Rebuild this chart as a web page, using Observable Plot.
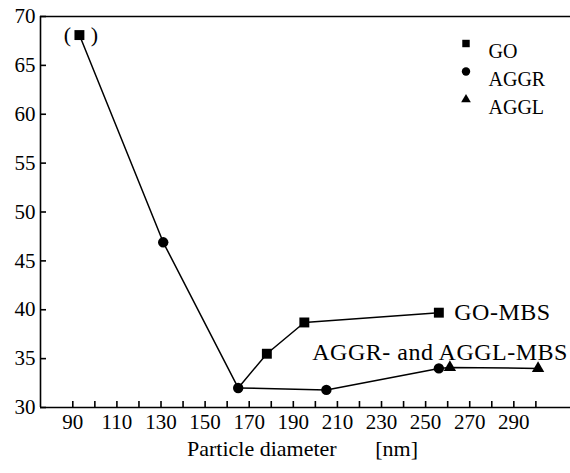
<!DOCTYPE html>
<html>
<head>
<meta charset="utf-8">
<script src="https://cdn.jsdelivr.net/npm/d3@7"></script>
<script src="https://cdn.jsdelivr.net/npm/@observablehq/plot@0.6"></script>
<style>
  html, body { margin: 0; padding: 0; background: white; }
  svg text { font-family: "Liberation Serif", "DejaVu Serif", serif; }
  .anno text { letter-spacing: 0.5px; }
</style>
</head>
<body>
<div id="chart"></div>
<script>
// Data
const goX = [93, 178, 195, 256];
const goY = [68.1, 35.5, 38.7, 39.7];
const aggrX = [131, 165, 205, 256];
const aggrY = [46.9, 32.0, 31.8, 34.0];
const agglX = [261, 301];
const agglY = [34.1, 34.0];
// connecting lines
const upperLineX = [93, 131, 165, 178, 195, 256];
const upperLineY = [68.1, 46.9, 32.0, 35.5, 38.7, 39.7];
const lowerLineX = [165, 205, 256, 261, 301];
const lowerLineY = [32.0, 31.8, 34.0, 34.1, 34.0];
// axes
const xDomain = [75.35, 315.7];
const yDomain = [30, 70];
const xTicks = d3.range(90, 301, 10);
const xTickLabels = d3.range(90, 291, 20);
const yTicks = d3.range(30, 71, 5);
const xLabel = "Particle diameter\u00a0\u00a0\u00a0\u00a0\u00a0\u00a0\u00a0[nm]";
// legend & annotations
const legendItems = ["GO", "AGGR", "AGGL"];
const legendSymbols = ["square", "circle", "triangle"];
const annotations = [
  {text: "GO-MBS", x: 263, y: 39.7},
  {text: "AGGR- and AGGL-MBS", x: 198.6, y: 35.6}
];

const FONT = "'Liberation Serif', 'DejaVu Serif', serif";
const W = 570, H = 473, MT = 16, ML = 40, MR = 0, MB = 66;
const pts = (xs, ys) => xs.map((x, i) => ({x, y: ys[i]}));
const go = pts(goX, goY), aggr = pts(aggrX, aggrY), aggl = pts(agglX, agglY);
const upper = pts(upperLineX, upperLineY), lower = pts(lowerLineX, lowerLineY);

const legendMarks = legendItems.flatMap((name, i) => [
  Plot.dot([name], {frameAnchor: "top-left", dx: 425.5, dy: 27 + i * 28, symbol: () => legendSymbols[i], r: i === 2 ? 3.6 : 4.2, fill: "black", stroke: "none"}),
  Plot.text([name], {frameAnchor: "top-left", dx: 448, dy: 27 + i * 28, text: d => d, textAnchor: "start", fontSize: 20, fontFamily: FONT})
]);

const chart = Plot.plot({
  width: W,
  height: H,
  marginTop: MT,
  marginLeft: ML,
  marginRight: MR,
  marginBottom: MB,
  x: {domain: xDomain, label: null},
  y: {domain: yDomain, label: null},
  style: {fontFamily: FONT, fontSize: "21px", color: "black", background: "white", overflow: "visible"},
  marks: [
    Plot.ruleY([yDomain[0], yDomain[1]], {stroke: "black", strokeWidth: 1.6}),
    Plot.ruleX([xDomain[0]], {stroke: "black", strokeWidth: 1.6}),
    // inward ticks: axis ticks drawn outward, shifted across the axis line
    Plot.axisX(xTicks, {anchor: "bottom", tickSize: 6, dy: -6, text: null, label: null, stroke: "black", strokeWidth: 1.6}),
    Plot.axisY(yTicks, {anchor: "left", tickSize: 6, dx: 6, text: null, label: null, stroke: "black", strokeWidth: 1.6}),
    // tick labels
    Plot.axisX(xTickLabels, {anchor: "bottom", tickSize: 0, tickPadding: 7, label: null, fontSize: 21}),
    Plot.axisY(yTicks, {anchor: "left", tickSize: 0, tickPadding: 5, label: null, fontSize: 21}),
    Plot.line(upper, {x: "x", y: "y", stroke: "black", strokeWidth: 1.5}),
    Plot.line(lower, {x: "x", y: "y", stroke: "black", strokeWidth: 1.5}),
    Plot.dot(go, {x: "x", y: "y", symbol: "square", r: 5.6, fill: "black", stroke: "none"}),
    Plot.dot(aggr, {x: "x", y: "y", symbol: "circle", r: 5.2, fill: "black", stroke: "none"}),
    Plot.dot(aggl, {x: "x", y: "y", symbol: "triangle", r: 4.6, fill: "black", stroke: "none"}),
    Plot.text([go[0]], {x: "x", y: "y", text: () => "(", dx: -12, fontSize: 22, fontFamily: FONT}),
    Plot.text([go[0]], {x: "x", y: "y", text: () => ")", dx: 15, fontSize: 22, fontFamily: FONT}),
    Plot.text(annotations, {x: "x", y: "y", text: "text", textAnchor: "start", fontSize: 24, fontFamily: FONT, className: "anno"}),
    Plot.text([xLabel], {frameAnchor: "bottom", dx: -3, dy: 48, text: d => d, fontSize: 22, fontFamily: FONT}),
    ...legendMarks
  ]
});
document.getElementById("chart").appendChild(chart);
</script>
</body>
</html>
